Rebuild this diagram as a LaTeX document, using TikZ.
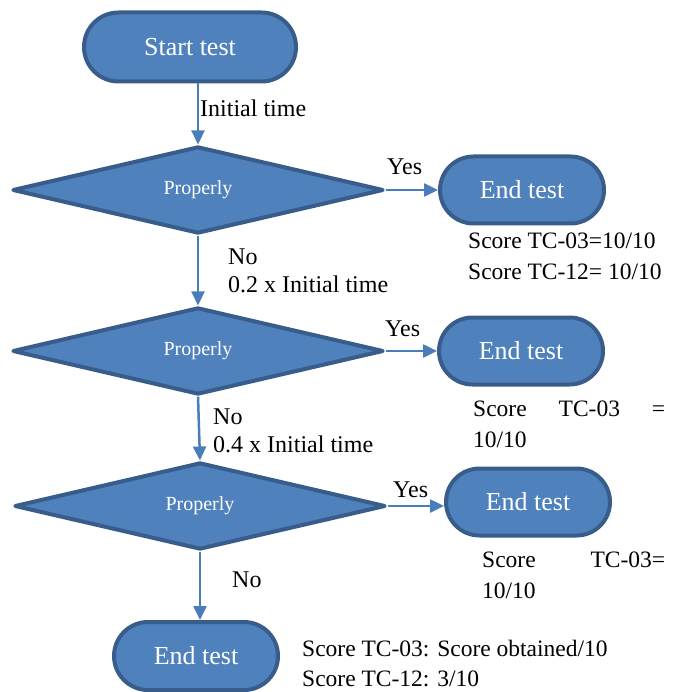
\documentclass[tikz,border=0pt]{standalone}
\usepackage{fontspec}
\setmainfont{Liberation Serif}
\usetikzlibrary{shapes.geometric,shapes.misc,arrows.meta}
\definecolor{boxfill}{HTML}{4F81BD}
\definecolor{boxline}{HTML}{385D8A}
\definecolor{flowline}{HTML}{4A7EBB}
\tikzset{
  terminal/.style={rounded rectangle, draw=boxline, fill=boxfill, line width=4pt,
    minimum width=164pt, minimum height=67pt, inner sep=0pt, text=white,
    font=\fontsize{26}{30}\selectfont},
  decision/.style={diamond, draw=boxline, fill=boxfill, line width=4pt, line join=round,
    minimum width=371pt, minimum height=86pt, inner sep=0pt, text=white,
    font=\fontsize{20}{24}\selectfont},
  flow/.style={draw=flowline, line width=2.5pt, -{Triangle[length=14pt,width=13pt]}},
  flowtext/.style={font=\fontsize{24}{28}\selectfont, inner sep=0pt, anchor=base west},
  note/.style={font=\fontsize{23.5}{31}\selectfont, inner sep=0pt, align=left, anchor=north west},
}

\begin{document}
\begin{tikzpicture}[x=1pt, y=-1pt]
\path[use as bounding box] (0,0) rectangle (679,692);

% main column
\node[terminal, minimum width=212pt, minimum height=69pt] (start) at (190,47) {Start test};
\node[decision] (check1) at (198,190) {Properly};
\node[decision] (check2) at (198,351) {Properly};
\node[decision, minimum height=83pt] (check3) at (200,506) {Properly};
\node[terminal, minimum height=68pt] (stop) at (196,656) {End test};

% yes branches
\node[terminal] (end1) at (522,190) {End test};
\node[terminal] (end2) at (521,351) {End test};
\node[terminal] (end3) at (528,502) {End test};

\draw[flow] (start.south -| check1.north) -- (check1.north);
\draw[flow] (check1.east) -- (end1.west);
\draw[flow] (check1.south) -- (check2.north);
\draw[flow] (check2.east) -- (end2.west);
\draw[flow] (check2.south) -- (check3.north);
\draw[flow] (check3.east) -- (check3.east -| end3.west);
\draw[flow] (check3.south) -- (check3.south |- stop.north);

% labels
\node[flowtext] (inittime) at (200,117) {Initial time};
\node[flowtext] (yes1) at (387,175) {Yes};
\node[flowtext] (yes2) at (385,336) {Yes};
\node[flowtext] (yes3) at (393,497) {Yes};
\node[note, font=\fontsize{24}{28}\selectfont] (no1) at (228,249) {No\\0.2 x Initial time};
\node[note, font=\fontsize{24}{28}\selectfont] (no2) at (213,409) {No\\0.4 x Initial time};
\node[flowtext] (no3) at (232,587) {No};

% scores
\node[note] (score1) at (468,233) {Score TC-03=10/10\\Score TC-12= 10/10};
\node[note] (score2) at (473,401) {\hbox to 192pt{Score\hfill TC-03\hfill =}\\10/10};
\node[note] (score3) at (482,552) {\hbox to 183pt{Score\hfill TC-03=}\\10/10};
\node[note, font=\fontsize{23.5}{30}\selectfont] (score4) at (302,640) {Score TC-03: Score obtained/10\\Score TC-12: 3/10};
\end{tikzpicture}
\end{document}
